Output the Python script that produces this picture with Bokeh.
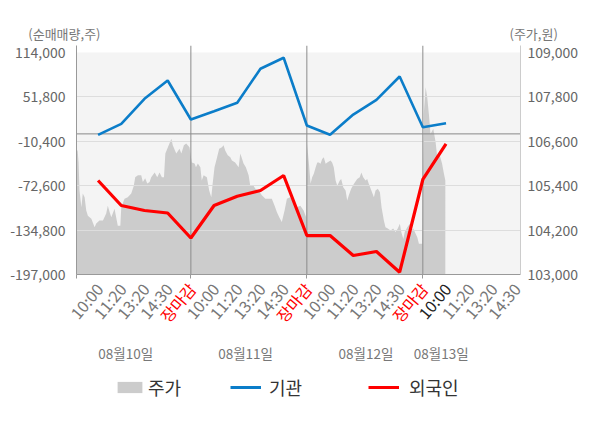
from bokeh.plotting import figure
from bokeh.layouts import column
from bokeh.models import (Range1d, LinearAxis, FixedTicker, NumeralTickFormatter, Span,
                          BoxAnnotation, ColumnDataSource, Legend, LegendItem)
from bokeh.core.properties import value, field
from bokeh.embed import file_html
from bokeh.resources import INLINE

FONT = "Noto Sans CJK KR"

# ---------------- data ----------------
time_labels = ["10:00", "11:20", "13:20", "14:30", "장마감",
               "10:00", "11:20", "13:20", "14:30", "장마감",
               "10:00", "11:20", "13:20", "14:30", "장마감",
               "10:00", "11:20", "13:20", "14:30"]
date_labels = ["08월10일", "08월11일", "08월12일", "08월13일"]
date_pos = [2.19, 7.36, 12.55, 15.79]
left_title = "(순매매량,주)"
right_title = "(주가,원)"

left_ticks = [114000, 51800, -10400, -72600, -134800, -197000]
price_ticks = [103000, 104200, 105400, 106600, 107800, 109000]

# 기관 / 외국인 net buying (shares), one value per time slot 1..16
inst = [-1300, 14100, 49100, 74800, 20100, 31600, 43500, 91200, 106600,
        11700, -1300, 27100, 47700, 80400, 9400, 15000]
foreign = [-65300, -100300, -107300, -110800, -145900, -100300, -87300, -79300, -58300,
           -142400, -142400, -170400, -164800, -193800, -63900, -13900]

# 주가 (price, won) traced along the time axis (slot units)
px_d1 = [0.00, 0.12, 0.16, 0.20, 0.28, 0.34, 0.42, 0.49, 0.56, 0.71, 0.85, 0.92, 1.06, 1.21,
         1.35, 1.42, 1.50, 1.57, 1.71, 1.78, 1.85, 1.96, 2.00, 2.14, 2.28, 2.43, 2.54, 2.60,
         2.72, 2.86, 2.93, 3.03, 3.12, 3.22, 3.29, 3.44, 3.55, 3.65, 3.75, 3.84, 3.90, 4.01,
         4.16, 4.22, 4.37, 4.51, 4.59, 4.70, 4.80, 4.94]
pr_d1 = [106350, 106350, 106030, 105270, 104820, 105190, 105090, 104730, 104590, 104510,
         104280, 104380, 104460, 104460, 104650, 104860, 104680, 104550, 104780, 104550,
         104320, 104320, 104820, 105050, 105090, 105190, 105400, 105630, 105680, 105680,
         105500, 105600, 105460, 105500, 105630, 105760, 105630, 105760, 105630, 105630,
         106270, 106440, 106670, 106490, 106270, 106400, 106270, 106490, 106540, 106440]
px_d2 = [5.04, 5.16, 5.22, 5.30, 5.41, 5.47, 5.55, 5.69, 5.79, 5.88, 5.94, 6.02, 6.12, 6.22,
         6.34, 6.41, 6.48, 6.59, 6.70, 6.77, 6.91, 7.06, 7.13, 7.20, 7.27, 7.37, 7.49, 7.56,
         7.70, 7.78, 7.92, 8.06, 8.21, 8.49, 8.61, 8.71, 8.81, 8.92, 9.04, 9.14, 9.28, 9.43,
         9.57, 9.72, 9.86, 9.97]
pr_d2 = [106030, 106000, 105900, 106000, 105900, 105540, 105680, 105630, 105270, 105090,
         105460, 105900, 106140, 106400, 106440, 106490, 106350, 106220, 106170, 106080,
         106030, 105900, 106270, 106140, 106000, 105900, 105680, 105400, 105400, 105320,
         105270, 105140, 105050, 105050, 104860, 104680, 104550, 104420, 104730, 105050,
         105090, 105000, 104820, 104860, 104730, 104550]
px_d3 = [10.01, 10.09, 10.16, 10.23, 10.30, 10.38, 10.45, 10.52, 10.59, 10.66, 10.73, 10.81,
         10.88, 11.02, 11.09, 11.16, 11.24, 11.31, 11.42, 11.48, 11.57, 11.67, 11.74, 11.81,
         11.91, 12.03, 12.17, 12.28, 12.35, 12.43, 12.53, 12.60, 12.67, 12.78, 12.89, 12.96,
         13.06, 13.15, 13.22, 13.32, 13.39, 13.49, 13.61, 13.72, 13.82, 13.92, 14.01, 14.07,
         14.16, 14.22, 14.33, 14.44, 14.50, 14.59, 14.69, 14.76, 14.83, 14.97]
pr_d3 = [106530, 105990, 105450, 105630, 105720, 105900, 106030, 106030, 105990, 106120,
         106170, 105990, 106030, 106080, 106030, 105900, 105540, 105400, 105540, 105580,
         105360, 105270, 105000, 105140, 105320, 105450, 105580, 105630, 105760, 105630,
         105540, 105580, 105450, 105270, 105090, 105270, 105320, 105220, 104820, 104460,
         104280, 104240, 104190, 104240, 104150, 104240, 104370, 104150, 103960, 104150,
         104280, 104370, 104190, 104240, 104100, 104010, 103830, 103830]
px_d4 = [15.04, 15.12, 15.19, 15.26, 15.33, 15.45, 15.55, 15.62, 15.73, 15.83, 15.91, 15.97]
pr_d4 = [107340, 108060, 107790, 107340, 106800, 106940, 106580, 106170, 106220, 105990,
         105720, 105540]

# ---------------- layout (page pixels) ----------------
W, H = 600, 428
FL, FR, FT, FB = 76, 520, 45, 274          # main frame
TOP_H = 43                                   # title strip
MAIN_BOTTOM = 283
OVERLAP = 8                                  # bottom strip is pulled up under the main chart
X0, X1 = 0.07, 19.21
YL0 = left_ticks[-1]
YL1 = left_ticks[0] + (left_ticks[0] - left_ticks[-1]) * 7 / 222
YP0 = price_ticks[0]
YP1 = price_ticks[-1] + (price_ticks[-1] - price_ticks[0]) * 7 / 222
GRAY = "#777777"


def blank(fig):
    fig.outline_line_color = None
    fig.background_fill_color = "white"
    fig.border_fill_color = "white"
    fig.xgrid.visible = False
    fig.ygrid.visible = False


def plain_axis(a, size, color):
    a.axis_line_color = None
    a.major_tick_line_color = None
    a.minor_tick_line_color = None
    a.major_tick_out = 0
    a.major_tick_in = 0
    a.minor_tick_out = 0
    a.major_label_text_font = FONT
    a.major_label_text_font_size = size
    a.major_label_text_color = color


# ---------- top strip: axis titles ----------
top = figure(width=W, height=TOP_H, output_backend="svg", toolbar_location=None, title=None,
             x_range=Range1d(X0, X1), y_range=Range1d(0, TOP_H), x_axis_type=None,
             min_border=0, min_border_left=FL, min_border_right=W - FR, min_border_top=0,
             min_border_bottom=0)
blank(top)
t_y = TOP_H - 34
tl_ax = top.yaxis[0]
tl_ax.ticker = FixedTicker(ticks=[t_y])
tl_ax.major_label_overrides = {t_y: left_title}
tl_ax.major_label_standoff = -24
tr_ax = LinearAxis(ticker=FixedTicker(ticks=[t_y]), major_label_overrides={t_y: right_title},
                   major_label_standoff=-11)
top.add_layout(tr_ax, "right")
for a in (tl_ax, tr_ax):
    plain_axis(a, "13px", GRAY)

# ---------- main chart ----------
p = figure(width=W, height=MAIN_BOTTOM - TOP_H, output_backend="svg", toolbar_location=None,
           title=None, x_range=Range1d(X0, X1), y_range=Range1d(YL0, YL1),
           min_border=0, min_border_left=FL, min_border_right=W - FR,
           min_border_top=FT - TOP_H, min_border_bottom=MAIN_BOTTOM - FB)
blank(p)
p.extra_y_ranges = {"price": Range1d(YP0, YP1)}

p.add_layout(BoxAnnotation(bottom=left_ticks[-1], top=left_ticks[0], fill_color="#f4f4f4",
                           fill_alpha=1, line_color=None, level="image"))

price_x = px_d1 + px_d2 + px_d3 + px_d4
price_y = pr_d1 + pr_d2 + pr_d3 + pr_d4
area_src = ColumnDataSource(dict(x=price_x, y=price_y, base=[price_ticks[0]] * len(price_x)))
p.varea(x="x", y1="base", y2="y", source=area_src, fill_color="#cccccc",
        y_range_name="price", level="underlay")

p.ygrid.visible = True
p.ygrid.ticker = FixedTicker(ticks=left_ticks[1:-1])
p.ygrid.grid_line_color = "#dddddd"
p.ygrid.grid_line_width = 1
p.ygrid.level = "underlay"

p.add_layout(Span(location=0, dimension="width", line_color="#888888", line_width=1,
                  level="underlay"))
for loc in [5, 10, 15]:
    p.add_layout(Span(location=loc, dimension="height", line_color="#8c8c8c", line_width=1,
                      level="underlay"))

slots = list(range(1, len(inst) + 1))
line_src = ColumnDataSource(dict(x=slots, inst=inst, foreign=foreign))
p.line(x="x", y="inst", source=line_src, line_color="#0b7dc9", line_width=2.6)
p.line(x="x", y="foreign", source=line_src, line_color="#ff0000", line_width=3.2)

ax = p.yaxis[0]
ax.ticker = FixedTicker(ticks=left_ticks)
ax.formatter = NumeralTickFormatter(format="0,0")
plain_axis(ax, "14px", "#666666")
ax.axis_line_color = "#999999"
ax.major_label_standoff = 11

rax = LinearAxis(y_range_name="price", ticker=FixedTicker(ticks=price_ticks),
                 formatter=NumeralTickFormatter(format="0,0"))
plain_axis(rax, "14px", "#666666")
rax.axis_line_color = "#cccccc"
rax.major_label_standoff = 7
p.add_layout(rax, "right")

bax = p.xaxis[0]
bax.ticker = FixedTicker(ticks=[X0, 5, 10, 15])
bax.axis_line_color = "#999999"
bax.major_tick_line_color = "#999999"
bax.major_tick_in = 0
bax.major_tick_out = 4
bax.minor_tick_line_color = None
bax.major_label_text_color = None
bax.major_label_text_font_size = "1px"

# ---------- bottom strip: time labels, dates, legend ----------
BH = H - MAIN_BOTTOM + OVERLAP
bot = figure(width=W, height=BH, output_backend="svg", toolbar_location=None, title=None,
             x_range=Range1d(X0, X1), y_range=Range1d(0, BH),
             x_axis_type=None, y_axis_type=None, min_border=0, min_border_left=FL,
             min_border_right=W - FR, min_border_top=0, min_border_bottom=0)
blank(bot)
bot.background_fill_alpha = 0
bot.border_fill_alpha = 0
bot.margin = (-OVERLAP, 0, 0, 0)

colors = []
for i, t in enumerate(time_labels):
    if t == "장마감":
        colors.append("#ff0000")
    elif i == 15:
        colors.append("#222222")
    else:
        colors.append(GRAY)
tl_src = ColumnDataSource(dict(x=list(range(1, len(time_labels) + 1)), text=time_labels,
                               color=colors, y=[H - 285] * len(time_labels)))
bot.text(x="x", y="y", text="text", source=tl_src, text_color=field("color"),
         angle=50, angle_units="deg", text_align="right", text_baseline="middle",
         x_offset=1, text_font=value(FONT), text_font_size=value("16px"), level="overlay")

dl_src = ColumnDataSource(dict(x=date_pos, text=date_labels, y=[H - 352] * len(date_labels)))
bot.text(x="x", y="y", text="text", source=dl_src, text_color=GRAY,
         text_align="center", text_baseline="middle",
         text_font=value(FONT), text_font_size=value("13.5px"))

nan = float("nan")
proxy = ColumnDataSource(dict(x=[nan], y=[nan], b=[nan]))
leg_area = bot.varea(x="x", y1="b", y2="y", source=proxy, fill_color="#cccccc")
leg_inst = bot.line(x="x", y="y", source=proxy, line_color="#0b7dc9", line_width=3)
leg_for = bot.line(x="x", y="y", source=proxy, line_color="#ff0000", line_width=3)

for label, rend, lx, so in [("주가", leg_area, 114, 3), ("기관", leg_inst, 230, 8),
                            ("외국인", leg_for, 368, 10)]:
    leg = Legend(items=[LegendItem(label=label, renderers=[rend])], location=(lx - FL, 28),
                 orientation="horizontal", padding=0, margin=0, spacing=0,
                 border_line_color=None, background_fill_alpha=0,
                 glyph_width=31, glyph_height=14, label_standoff=so, label_height=20,
                 label_text_font=FONT, label_text_font_size="18px", label_text_color="#333333")
    bot.add_layout(leg, "center")

layout = column(top, p, bot, spacing=0)
open("out.html", "w").write(file_html(layout, INLINE))
